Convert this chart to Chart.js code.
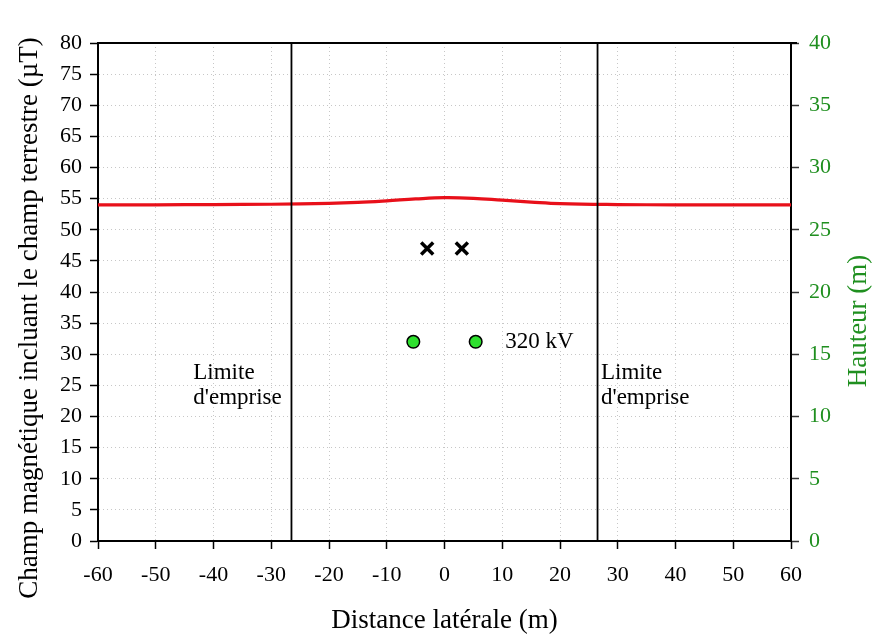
<!DOCTYPE html>
<html>
<head>
<meta charset="utf-8">
<script src="https://cdn.jsdelivr.net/npm/chart.js@4.4.0/dist/chart.umd.min.js"></script>
<style>body{margin:0;background:#fff}</style>
</head>
<body>
<canvas id="champ" width="883" height="637"></canvas>
<script>
// champ magnétique (µT) selon la distance latérale (m)
var distance = [-60, -50, -40, -30, -20, -15, -10, -5, 0, 5, 10, 15, 20, 30, 40, 50, 60];
var champ = [54.0, 54.0, 54.05, 54.1, 54.25, 54.4, 54.65, 54.95, 55.15, 55.05, 54.75, 54.45, 54.2, 54.05, 54.0, 54.0, 54.0];

// câbles de garde (x) et conducteurs (o) : position (m), hauteur (m)
var gardeX = [-3, 3];
var gardeH = [23.5, 23.5];
var conducteurX = [-5.4, 5.4];
var conducteurH = [16, 16];

// limites d'emprise (m)
var limites = [-26.5, 26.5];

// textes sur le graphique
var notes = [
    {lignes: ['Limite', "d'emprise"], x: -43.5, y: 27},
    {lignes: ['Limite', "d'emprise"], x: 27.1, y: 27},
    {lignes: ['320 kV'], x: 10.5, y: 32}
];

var vert = '#1f8f1f';
Chart.defaults.font.family = '"Liberation Serif", "Times New Roman", serif';
Chart.defaults.font.size = 22;
Chart.defaults.color = '#000';

function pts(xs, ys) {
    return xs.map(function (x, i) { return {x: x, y: ys[i]}; });
}

var extras = {
    id: 'extras',
    afterDraw: function (chart) {
        var c = chart.ctx, a = chart.chartArea, sx = chart.scales.x, sy = chart.scales.y;
        c.save();
        // cadre du haut
        c.strokeStyle = '#000';
        c.lineWidth = 2;
        c.beginPath();
        c.moveTo(a.left - 1, a.top);
        c.lineTo(a.right + 6, a.top);
        c.stroke();

        c.font = '23px "Liberation Serif"';
        c.fillStyle = '#000';
        c.textAlign = 'left';
        c.textBaseline = 'middle';
        notes.forEach(function (n) {
            n.lignes.forEach(function (t, i) {
                c.fillText(t, sx.getPixelForValue(n.x), sy.getPixelForValue(n.y) + i * 25);
            });
        });

        // titres des axes
        c.font = '27px "Liberation Serif"';
        c.textAlign = 'center';
        c.textBaseline = 'alphabetic';
        c.fillText('Distance latérale (m)', (a.left + a.right) / 2, 628);
        c.save();
        c.translate(37, 318);
        c.rotate(-Math.PI / 2);
        c.fillText('Champ magnétique incluant le champ terrestre (µT)', 0, 0);
        c.restore();
        c.translate(866, 321);
        c.rotate(-Math.PI / 2);
        c.fillStyle = vert;
        c.fillText('Hauteur (m)', 0, 0);
        c.restore();
    }
};

var grille = {color: 'rgba(0,0,0,0.22)', lineWidth: 1, tickLength: 8, tickColor: '#000', tickWidth: 1.5};

var ctx = document.getElementById('champ').getContext('2d');
var chart = new Chart(ctx, {
    type: 'scatter',
    data: {
        datasets: [{
            data: pts(limites.slice(0, 1).concat(limites.slice(0, 1)), [0, 80]),
            showLine: true, borderColor: '#000', borderWidth: 1.8, pointRadius: 0
        }, {
            data: pts(limites.slice(1).concat(limites.slice(1)), [0, 80]),
            showLine: true, borderColor: '#000', borderWidth: 1.8, pointRadius: 0
        }, {
            data: pts(distance, champ),
            showLine: true, borderColor: '#e8101a', borderWidth: 3.2, pointRadius: 0, tension: 0.4
        }, {
            data: pts(gardeX, gardeH), yAxisID: 'y2',
            pointStyle: 'crossRot', pointRadius: 8.5, borderColor: '#000', borderWidth: 3.5
        }, {
            data: pts(conducteurX, conducteurH), yAxisID: 'y2',
            pointStyle: 'circle', pointRadius: 6.3, backgroundColor: '#2ee02e', borderColor: '#000', borderWidth: 1.5
        }]
    },
    options: {
        responsive: false,
        animation: false,
        layout: {padding: {top: 43, left: 0, right: 0, bottom: 0}},
        plugins: {legend: {display: false}, tooltip: {enabled: false}},
        scales: {
            x: {
                type: 'linear', min: -60, max: 60,
                ticks: {stepSize: 10, padding: 13},
                grid: grille,
                border: {color: '#000', width: 2, dash: [1, 3]},
                afterFit: function (s) { s.height = 96; }
            },
            y: {
                position: 'left', min: 0, max: 80,
                ticks: {stepSize: 5, padding: 8},
                grid: grille,
                border: {color: '#000', width: 2, dash: [1, 3]},
                afterFit: function (s) { s.width = 98; }
            },
            y2: {
                position: 'right', min: 0, max: 40,
                ticks: {stepSize: 5, padding: 10, color: vert},
                grid: {drawOnChartArea: false, tickLength: 8, tickColor: '#333', tickWidth: 1.5},
                border: {color: '#000', width: 2},
                afterFit: function (s) { s.width = 92; }
            }
        }
    },
    plugins: [extras]
});
</script>
</body>
</html>
